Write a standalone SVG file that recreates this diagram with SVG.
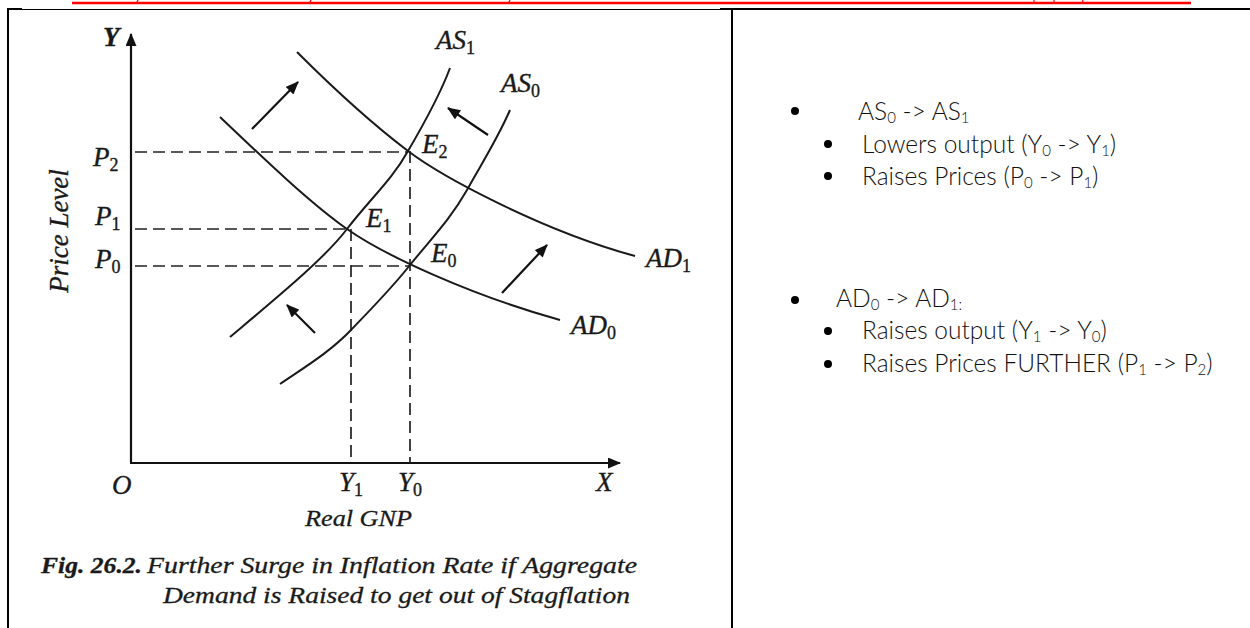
<svg xmlns="http://www.w3.org/2000/svg" width="1250" height="628" viewBox="0 0 1250 628">
<defs>
<marker id="ah" viewBox="0 0 12 10" refX="11" refY="5" markerWidth="14" markerHeight="11" markerUnits="userSpaceOnUse" orient="auto"><path d="M0,0 L12,5 L0,10 z" fill="#111"/></marker>
</defs>
<style>
.lbl{font-family:'Liberation Serif','Times New Roman',Times,serif;font-style:italic;font-size:27px;fill:#1a1a1a;stroke:#1a1a1a;stroke-width:0.35}
.sub{font-style:normal;font-size:18px}
.cap{font-family:'Liberation Serif','Times New Roman',Times,serif;font-style:italic;font-size:24px;fill:#1a1a1a;stroke:#1a1a1a;stroke-width:0.3}
.curve{fill:none;stroke:#1a1a1a;stroke-width:2}
.dash{fill:none;stroke:#222;stroke-width:1.7;stroke-dasharray:12 6}
.axis{stroke:#111;stroke-width:2.2;fill:none}
.arr{stroke:#111;stroke-width:2.2;fill:none;marker-end:url(#ah)}
.txt{font-family:Lato,'Open Sans',sans-serif;font-weight:300;font-size:24.5px;fill:#111}
.s{font-size:15px}
.red{stroke:#ff0000;fill:none}
.rule{stroke:#000;fill:none}
</style>
<rect width="1250" height="628" fill="#fff"/>
<g id="page-lines">
<line class="red" x1="72" y1="3" x2="1191" y2="3" stroke-width="2.4"/>
<line class="red" x1="138" y1="0" x2="136" y2="4" stroke-width="1.2"/>
<line class="red" x1="311" y1="0" x2="309" y2="4" stroke-width="1.2"/>
<line class="red" x1="510" y1="0" x2="508" y2="4" stroke-width="1.2"/>
<line class="red" x1="1034" y1="0" x2="1034" y2="4" stroke-width="1.2"/>
<line class="red" x1="1054" y1="0" x2="1054" y2="4" stroke-width="1.2"/>
<line class="red" x1="1083" y1="0" x2="1082" y2="4" stroke-width="1.2"/>
<line class="rule" x1="7" y1="9.5" x2="720" y2="9.5" stroke-width="1.2"/>
<line class="rule" x1="7" y1="9" x2="22" y2="9" stroke-width="2"/>
<line class="rule" x1="720" y1="9" x2="1250" y2="9" stroke-width="2"/>
<line class="rule" x1="8" y1="8" x2="8" y2="628" stroke-width="2"/>
<line class="rule" x1="732" y1="9" x2="732" y2="628" stroke-width="2"/>
</g>
<g id="axes">
<line class="axis" x1="131" y1="463" x2="131" y2="34" marker-end="url(#ah)"/>
<line class="axis" x1="130" y1="463" x2="620" y2="463" marker-end="url(#ah)"/>
</g>
<g id="connectors">
<line class="dash" x1="135" y1="152" x2="408" y2="152"/>
<line class="dash" x1="135" y1="229" x2="347" y2="229"/>
<line class="dash" x1="135" y1="266" x2="410" y2="266"/>
<line class="dash" x1="351" y1="229" x2="351" y2="463"/>
<line class="dash" x1="410" y1="151" x2="410" y2="463"/>
<path id="AD1" class="curve" d="M297,52 C330,85 375,126 408,151 C441,176 540,230 635,256"/>
<path id="AD0" class="curve" d="M220,117 C262,157 310,203 347,229 C384,255 470,295 560,320"/>
<path id="AS1" class="curve" d="M230,337 C280,295 325,258 347,229 C370,199 392,180 408,151 C425,122 440,95 450,68"/>
<path id="AS0" class="curve" d="M280,384 C305,367 330,352 351,330 C372,308 392,288 410,265 C430,240 450,220 467,190 C482,163 498,138 510,110"/>
<line class="arr" x1="252" y1="129" x2="298" y2="82"/>
<line class="arr" x1="488" y1="135" x2="448" y2="108"/>
<line class="arr" x1="502" y1="293" x2="547" y2="245"/>
<line class="arr" x1="315" y1="333" x2="287" y2="305"/>
</g>
<g id="graph-labels">
<text class="lbl" x="103" y="46" font-weight="bold">Y</text>
<text class="lbl" x="93" y="166">P<tspan class="sub" dy="5">2</tspan></text>
<text class="lbl" x="95" y="225">P<tspan class="sub" dy="5">1</tspan></text>
<text class="lbl" x="95" y="268">P<tspan class="sub" dy="5">0</tspan></text>
<text class="lbl" text-anchor="middle" transform="translate(68,231) rotate(-90)">Price Level</text>
<text class="lbl" x="436" y="49">AS<tspan class="sub" dy="5">1</tspan></text>
<text class="lbl" x="501" y="92">AS<tspan class="sub" dy="5">0</tspan></text>
<text class="lbl" x="422" y="153">E<tspan class="sub" dy="5">2</tspan></text>
<text class="lbl" x="366" y="227">E<tspan class="sub" dy="5">1</tspan></text>
<text class="lbl" x="431" y="262">E<tspan class="sub" dy="5">0</tspan></text>
<text class="lbl" x="646" y="267">AD<tspan class="sub" dy="5">1</tspan></text>
<text class="lbl" x="571" y="334">AD<tspan class="sub" dy="5">0</tspan></text>
<text class="lbl" x="112" y="494">O</text>
<text class="lbl" x="339" y="491">Y<tspan class="sub" dy="5">1</tspan></text>
<text class="lbl" x="398" y="491">Y<tspan class="sub" dy="5">0</tspan></text>
<text class="lbl" x="596" y="491">X</text>
<text class="cap" x="305" y="526" textLength="107" lengthAdjust="spacingAndGlyphs">Real GNP</text>
</g>
<g id="caption">
<text class="cap" x="41" y="573" font-style="normal" font-weight="bold" textLength="101" lengthAdjust="spacingAndGlyphs">Fig. 26.2.</text>
<text class="cap" x="147" y="573" textLength="490" lengthAdjust="spacingAndGlyphs">Further Surge in Inflation Rate if Aggregate</text>
<text class="cap" x="163" y="603" textLength="467" lengthAdjust="spacingAndGlyphs">Demand is Raised to get out of Stagflation</text>
</g>
<g id="notes-as">
<circle cx="795" cy="111" r="4" fill="#000"/>
<text class="txt" x="858" y="120">AS<tspan class="s" dy="3">0</tspan><tspan dy="-3"> -&gt; AS</tspan><tspan class="s" dy="3">1</tspan></text>
<circle cx="828" cy="144" r="4" fill="#000"/>
<text class="txt" x="862" y="153">Lowers output (Y<tspan class="s" dy="3">0</tspan><tspan dy="-3"> -&gt; Y</tspan><tspan class="s" dy="3">1</tspan><tspan dy="-3">)</tspan></text>
<circle cx="828" cy="176" r="4" fill="#000"/>
<text class="txt" x="862" y="185">Raises Prices (P<tspan class="s" dy="3">0</tspan><tspan dy="-3"> -&gt; P</tspan><tspan class="s" dy="3">1</tspan><tspan dy="-3">)</tspan></text>
</g>
<g id="notes-ad">
<circle cx="795" cy="300" r="4" fill="#000"/>
<text class="txt" x="836" y="307">AD<tspan class="s" dy="3">0</tspan><tspan dy="-3"> -&gt; AD</tspan><tspan class="s" dy="3">1:</tspan></text>
<circle cx="828" cy="331" r="4" fill="#000"/>
<text class="txt" x="862" y="339">Raises output (Y<tspan class="s" dy="3">1</tspan><tspan dy="-3"> -&gt; Y</tspan><tspan class="s" dy="3">0</tspan><tspan dy="-3">)</tspan></text>
<circle cx="828" cy="364" r="4" fill="#000"/>
<text class="txt" x="862" y="372">Raises Prices FURTHER (P<tspan class="s" dy="3">1</tspan><tspan dy="-3"> -&gt; P</tspan><tspan class="s" dy="3">2</tspan><tspan dy="-3">)</tspan></text>
</g>
</svg>
